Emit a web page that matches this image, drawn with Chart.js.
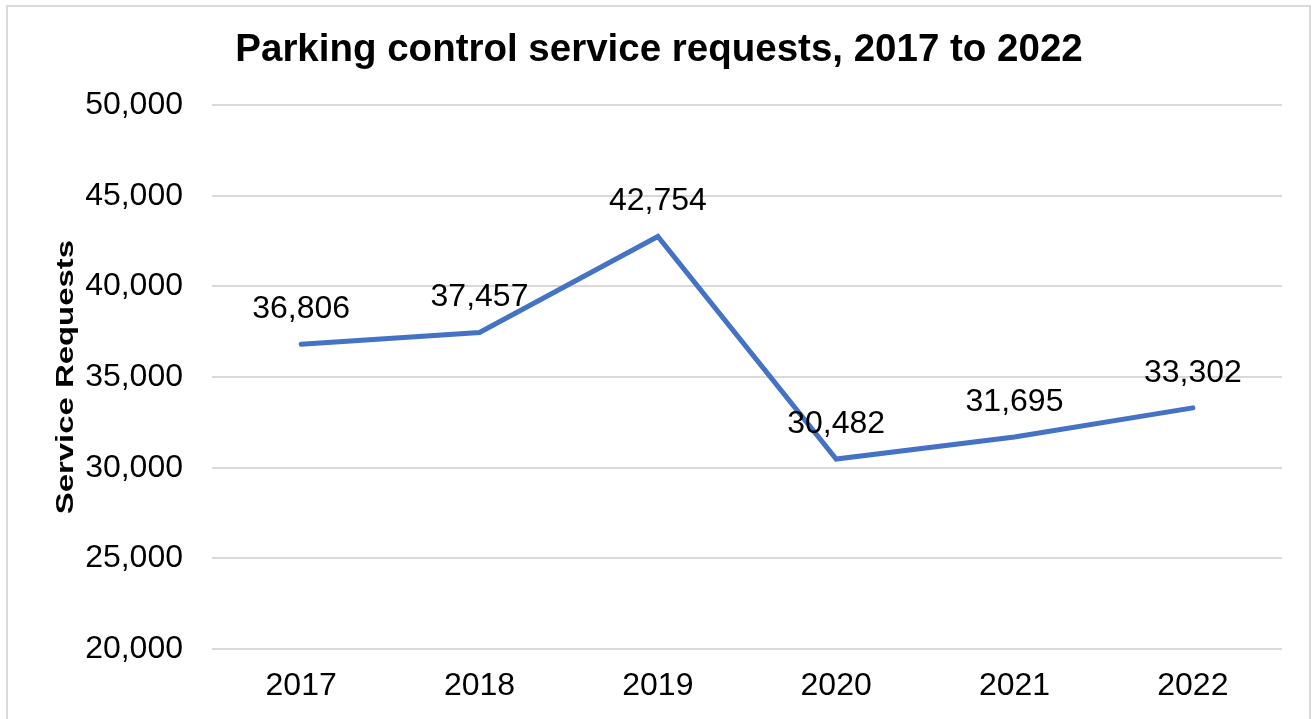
<!DOCTYPE html>
<html>
<head>
<meta charset="utf-8">
<script src="https://cdn.jsdelivr.net/npm/chart.js@4"></script>
<style>
  html, body { margin: 0; padding: 0; background: #fff; }
  #wrap { width: 1312px; height: 719px; }
</style>
</head>
<body>
<div id="wrap"><canvas id="myChart" width="1312" height="719"></canvas></div>
<script>
var years = ["2017", "2018", "2019", "2020", "2021", "2022"];
var requests = [36806, 37457, 42754, 30482, 31695, 33302];
var yMin = 20000;
var yMax = 50000;
var yStep = 5000;

var FONT = "'Liberation Sans', Arial, sans-serif";

// light grey frame round the whole chart
var frame = {
    id: 'frame',
    beforeDraw: function(chart) {
        var c = chart.ctx;
        c.save();
        c.strokeStyle = '#d9d9d9';
        c.lineWidth = 2;
        c.strokeRect(7, 6, 1303, 800);
        c.restore();
    }
};

// value above each point
var valueLabels = {
    id: 'valueLabels',
    afterDatasetsDraw: function(chart) {
        var c = chart.ctx;
        var meta = chart.getDatasetMeta(0);
        var data = chart.data.datasets[0].data;
        c.save();
        c.font = '32px ' + FONT;
        c.fillStyle = '#000';
        c.textAlign = 'center';
        c.textBaseline = 'middle';
        meta.data.forEach(function(pt, i) {
            c.fillText(data[i].toLocaleString('en-US'), pt.x, pt.y - 35);
        });
        c.restore();
    }
};

// y axis title, drawn by hand so it can be widened a little
var yTitle = {
    id: 'yTitle',
    afterDraw: function(chart) {
        var c = chart.ctx;
        var area = chart.chartArea;
        c.save();
        c.translate(64, (area.top + area.bottom) / 2);
        c.rotate(-Math.PI / 2);
        c.scale(1.37, 1);
        c.font = 'bold 24px ' + FONT;
        c.fillStyle = '#000';
        c.textAlign = 'center';
        c.textBaseline = 'alphabetic';
        c.fillText('Service Requests', 0, 9);
        c.restore();
    }
};

var ctx = document.getElementById('myChart').getContext('2d');
var chart = new Chart(ctx, {
    type: 'line',
    data: {
        labels: years,
        datasets: [{
            label: 'Service Requests',
            data: requests,
            borderColor: '#4472C4',
            borderWidth: 5,
            borderCapStyle: 'round',
            borderJoinStyle: 'miter',
            tension: 0,
            pointRadius: 0,
            fill: false
        }]
    },
    options: {
        responsive: false,
        animation: false,
        layout: {
            padding: { left: 36, right: 30, top: 0, bottom: 14 }
        },
        plugins: {
            legend: { display: false },
            tooltip: { enabled: false },
            title: {
                display: true,
                text: 'Parking control service requests, 2017 to 2022',
                color: '#000',
                font: { family: FONT, size: 38.5, weight: 'bold' },
                padding: { top: 27, bottom: 32 }
            }
        },
        scales: {
            x: {
                offset: true,
                afterFit: function(scale) { scale.height = 56; },
                grid: { display: false, drawTicks: false },
                border: { display: false },
                ticks: {
                    color: '#000',
                    font: { family: FONT, size: 32 },
                    padding: 18,
                    maxRotation: 0
                }
            },
            y: {
                min: yMin,
                max: yMax,
                afterFit: function(scale) { scale.width = 176; },
                grid: { color: '#d9d9d9', lineWidth: 2, drawTicks: false },
                border: { display: false },
                ticks: {
                    stepSize: yStep,
                    color: '#000',
                    padding: 29,
                    font: { family: FONT, size: 32 },
                    callback: function(v) { return v.toLocaleString('en-US'); }
                }
            }
        }
    },
    plugins: [frame, valueLabels, yTitle]
});
</script>
</body>
</html>
